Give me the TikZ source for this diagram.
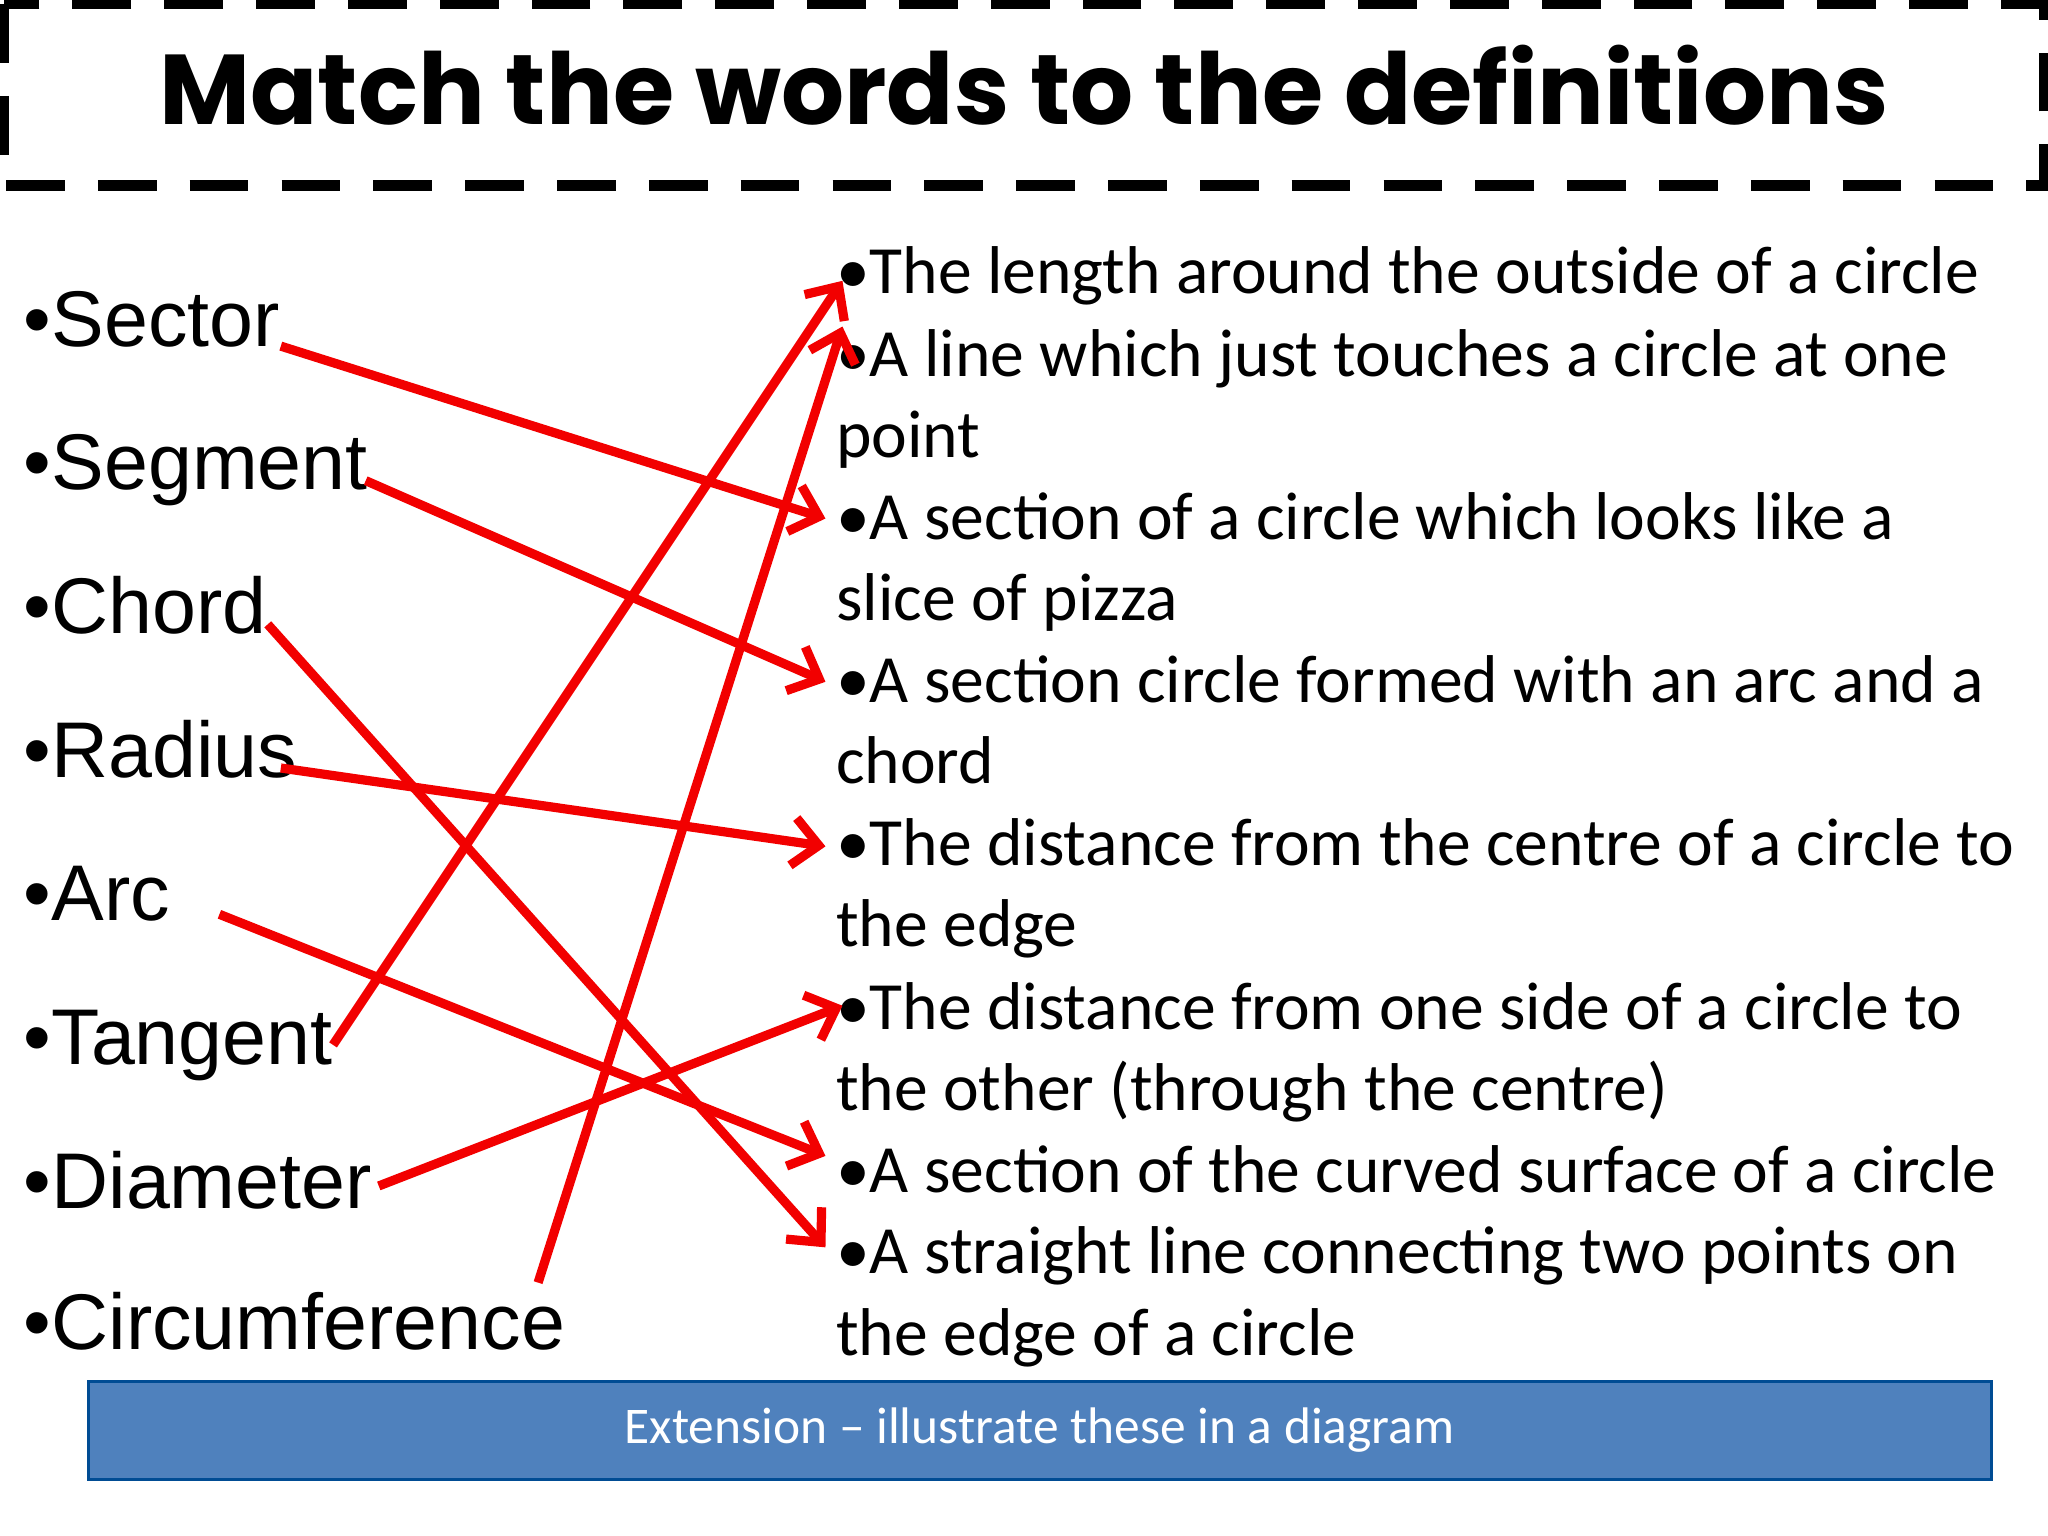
\documentclass[tikz,border=0pt]{standalone}
\usepackage{fontspec}
\setmainfont{Liberation Sans}
\newfontfamily\carl{Carlito}
\newfontfamily\titlef{Poppins Bold}
\usetikzlibrary{arrows.meta}
\begin{document}
\begin{tikzpicture}[x=0.025cm,y=-0.025cm,
  word/.style={anchor=base west,inner sep=0,font=\fontsize{43}{48}\selectfont},
  defn/.style={anchor=base west,inner sep=0,font=\carl\fontsize{36.8}{40}\selectfont},
  link/.style={red!95!black,line width=5pt,-{Straight Barb[length=14pt,width=26pt,line width=5pt]}}]
\useasboundingbox[fill=white] (0,0) rectangle (1568,1176);
\draw[line width=6pt,dash pattern=on 32pt off 18pt] (3,3) rectangle (1565,142);
\node[font=\titlef\fontsize{54}{58}\selectfont,anchor=base] (title) at (784,95) {Match the words to the definitions};
% words
\foreach \w/\y/\n in {Sector/265/w1,Segment/375/w2,Chord/485/w3,Radius/595/w4,Arc/705/w5,Tangent/815/w6,Diameter/925/w7,Circumference/1033/w8}
  \node[word] (\n) at (18,\y) {•\w};
% definitions
\node[defn] (d1) at (640,225) {•The length around the outside of a circle};
\node[defn] (d2) at (640,288) {•A line which just touches a circle at one};
\node[defn] (d2b) at (640,350) {point};
\node[defn] (d3) at (640,413) {•A section of a circle which looks like a};
\node[defn] (d3b) at (640,475) {slice of pizza};
\node[defn] (d4) at (640,538) {•A section circle formed with an arc and a};
\node[defn] (d4b) at (640,600) {chord};
\node[defn] (d5) at (640,663) {•The distance from the centre of a circle to};
\node[defn] (d5b) at (640,725) {the edge};
\node[defn] (d6) at (640,788) {•The distance from one side of a circle to};
\node[defn] (d6b) at (640,850) {the other (through the centre)};
\node[defn] (d7) at (640,913) {•A section of the curved surface of a circle};
\node[defn] (d8) at (640,975) {•A straight line connecting two points on};
\node[defn] (d8b) at (640,1038) {the edge of a circle};
% endpoints
\coordinate (s1) at (215,265); \coordinate (e1) at (632,397);
\coordinate (s2) at (280,368); \coordinate (e2) at (632,522);
\coordinate (s3) at (205,478); \coordinate (e3) at (632,955);
\coordinate (s4) at (215,588); \coordinate (e4) at (632,648);
\coordinate (s5) at (168,700); \coordinate (e5) at (632,885);
\coordinate (s6) at (255,800); \coordinate (e6) at (645,215);
\coordinate (s7) at (290,908); \coordinate (e7) at (645,770);
\coordinate (s8) at (412,982); \coordinate (e8) at (645,250);
\foreach \i in {1,...,8} \draw[link] (s\i) -- (e\i);
% extension box
\node[draw=blue!40!black!70!cyan,line width=1.5pt,fill={rgb,255:red,79;green,129;blue,189},
  minimum width=1457*0.025cm,minimum height=75*0.025cm,text=white,
  font=\carl\fontsize{28}{30}\selectfont] (ext) at (796,1095) {Extension – illustrate these in a diagram};
\end{tikzpicture}
\end{document}
